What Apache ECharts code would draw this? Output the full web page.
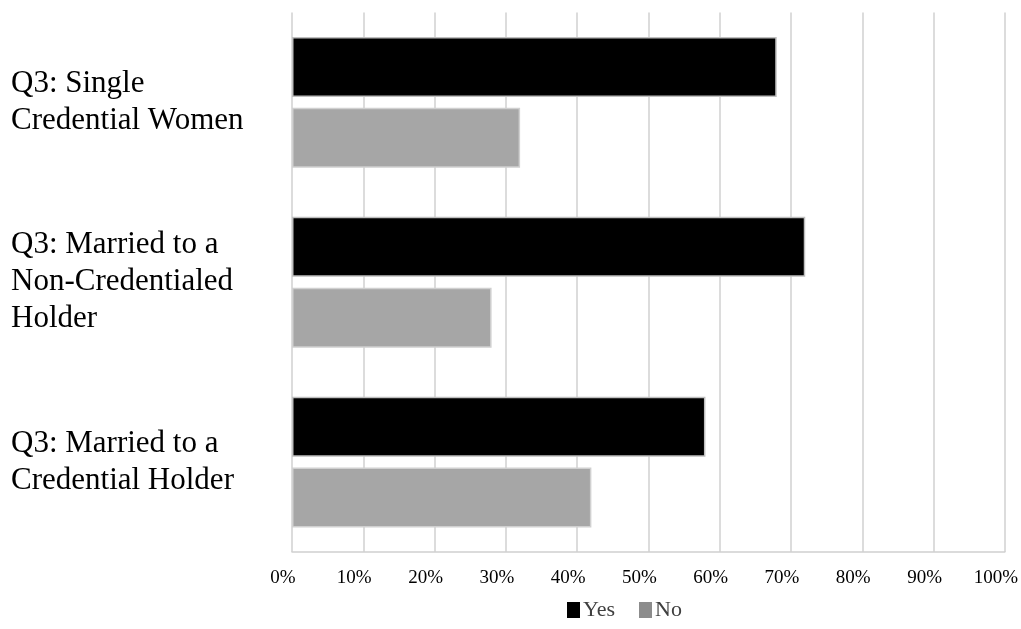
<!DOCTYPE html>
<html>
<head>
<meta charset="utf-8">
<script src="https://cdn.jsdelivr.net/npm/echarts@6/dist/echarts.min.js"></script>
<style>
  html, body { margin: 0; padding: 0; background: #ffffff; }
  #chart { width: 1021px; height: 629px; }
</style>
</head>
<body>
<div id="chart"></div>
<script>
// Survey groups, listed top to bottom
const categories = [
  'Q3: Single Credential Women',
  'Q3: Married to a Non-Credentialed Holder',
  'Q3: Married to a Credential Holder'
];
// Share of answers per group (percent)
const yesValues = [68, 72, 58];
const noValues = [32, 28, 42];
// Horizontal axis ticks (percent)
const tickMin = 0;
const tickMax = 100;
const tickStep = 10;

const serif = '"Liberation Serif", "Times New Roman", serif';
const chart = echarts.init(document.getElementById('chart'), null, { renderer: 'canvas' });

chart.setOption({
  animation: false,
  backgroundColor: '#ffffff',
  grid: { left: 292, right: 14, top: 12.5, bottom: 77, containLabel: false },
  legend: {
    left: 562,
    top: 594,
    itemWidth: 13,
    itemHeight: 16,
    itemGap: 24,
    icon: 'rect',
    textStyle: { fontFamily: serif, fontSize: 22, color: '#404040', padding: [0, 0, 0, -2] },
    data: [
      { name: 'Yes', itemStyle: { color: '#000000', borderWidth: 0 } },
      { name: 'No', itemStyle: { color: '#8c8c8c', borderWidth: 0 } }
    ]
  },
  xAxis: {
    type: 'value',
    min: tickMin,
    max: tickMax,
    interval: tickStep,
    axisLine: { show: true, lineStyle: { color: '#cfcfcf', width: 1.5 } },
    axisTick: { show: false },
    splitLine: { show: true, lineStyle: { color: '#d0d0d0', width: 1.5 } },
    axisLabel: {
      formatter: '{value}%',
      fontFamily: serif,
      fontSize: 19,
      color: '#000000',
      margin: 17,
      padding: [0, 18, 0, 0]
    }
  },
  yAxis: {
    type: 'category',
    data: categories,
    inverse: true,
    axisLine: { show: false },
    axisTick: { show: false },
    splitLine: { show: false },
    axisLabel: {
      align: 'left',
      margin: 281,
      width: 262,
      overflow: 'break',
      padding: [12, 0, 0, 0],
      fontFamily: serif,
      fontSize: 31,
      lineHeight: 37,
      color: '#000000'
    }
  },
  series: [
    {
      name: 'Yes',
      type: 'bar',
      data: yesValues,
      barWidth: 60,
      barGap: '18%',
      itemStyle: { color: '#000000', borderColor: '#bfbfbf', borderWidth: 1.5 }
    },
    {
      name: 'No',
      type: 'bar',
      data: noValues,
      barWidth: 60,
      barGap: '18%',
      itemStyle: { color: '#a6a6a6', borderColor: '#d0d0d0', borderWidth: 1.5 }
    }
  ]
});
</script>
</body>
</html>
